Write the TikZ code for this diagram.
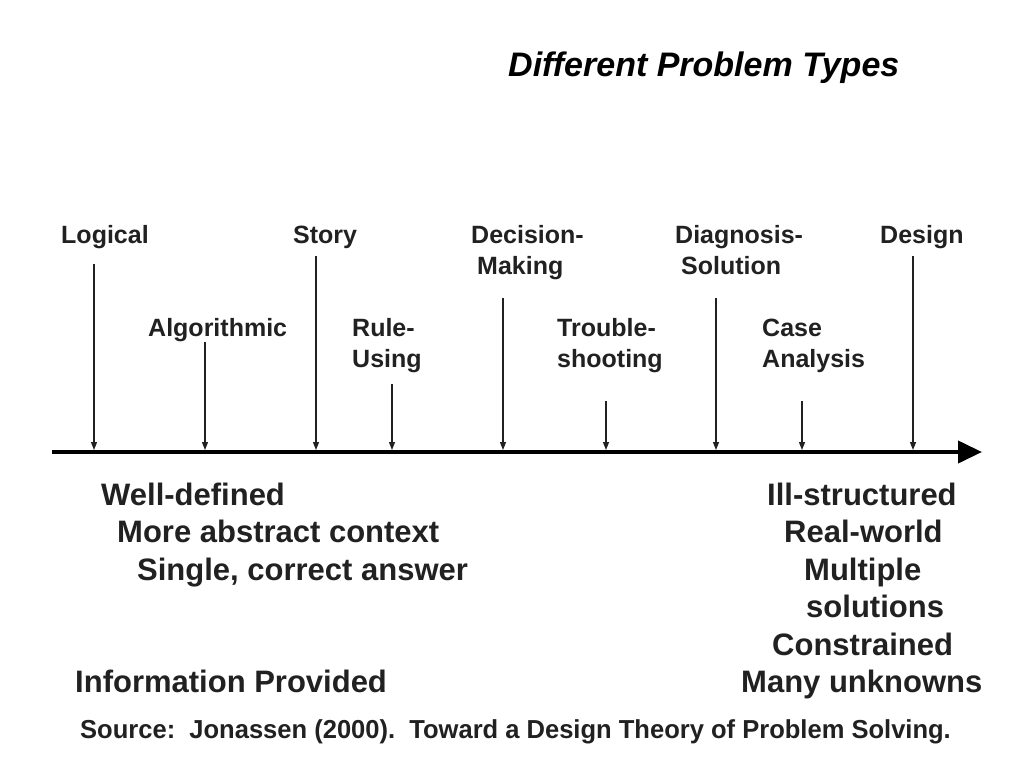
\documentclass[tikz,border=0pt]{standalone}
\usepackage{fontspec}
\setmainfont{Liberation Sans}
\usetikzlibrary{arrows.meta}
\definecolor{ink}{gray}{0.13}
\begin{document}
\begin{tikzpicture}[x=1pt,y=-1pt,
  lbl/.style={anchor=base west,inner sep=0pt,font=\fontsize{25}{31}\selectfont\bfseries,text=ink,align=left},
  big/.style={anchor=base west,inner sep=0pt,font=\fontsize{31}{37.5}\selectfont\bfseries,text=ink},
  tick/.style={line width=1.3pt,ink,-{Triangle[length=8pt,width=6pt]}},
  axis/.style={line width=4pt,black,-{Triangle[length=24pt,width=22pt]}}]
\useasboundingbox[fill=white] (0,0) rectangle (1024,768);
% title
\node[anchor=base west,inner sep=0pt,font=\fontsize{34}{40}\selectfont\bfseries\itshape,text=black] (title) at (508,77) {Different Problem Types};
% axis
\coordinate (a0) at (52,452);
\coordinate (a1) at (982,452);
\draw[axis] (a0) -- (a1);
% labels (multi-line nodes: base = last line)
\node[lbl] (logical) at (61,243) {Logical};
\node[lbl] (story) at (293,243) {Story};
\node[lbl] (decision) at (471,274) {Decision-\\\hspace{6pt}Making};
\node[lbl] (diagnosis) at (675,274) {Diagnosis-\\\hspace{6pt}Solution};
\node[lbl] (design) at (880,243) {Design};
\node[lbl] (algorithmic) at (148,336) {Algorithmic};
\node[lbl] (rule) at (352,367) {Rule-\\Using};
\node[lbl] (trouble) at (557,367) {Trouble-\\shooting};
\node[lbl] (case) at (762,367) {Case\\Analysis};
% tick arrows
\foreach \n/\x/\y in {logical/94/264, algorithmic/205/342, story/316/256, rule/392/384, decision/503/298, trouble/606/401, diagnosis/716/298, case/802/401, design/913/256}{
  \coordinate (\n-s) at (\x,\y);
  \coordinate (\n-e) at (\x,450);
  \draw[tick] (\n-s) -- (\n-e);
}
% bottom text left
\node[big] (wd) at (101,505) {Well-defined};
\node[big] (mac) at (117,542.5) {More abstract context};
\node[big] (sca) at (137,580) {Single, correct answer};
\node[big] (ip) at (75,692.5) {Information Provided};
% bottom text right
\node[big] (is) at (767,505) {Ill-structured};
\node[big] (rw) at (784,542.5) {Real-world};
\node[big] (mu) at (804,580) {Multiple};
\node[big] (so) at (806,617.5) {solutions};
\node[big] (co) at (772,655) {Constrained};
\node[big] (mk) at (741,692.5) {Many unknowns};
% source
\node[anchor=base west,inner sep=0pt,font=\fontsize{26}{30}\selectfont\bfseries,text=ink] (src) at (80,738) {\scalebox{0.982}[1]{Source:\ \ Jonassen (2000).\ \ Toward a Design Theory of Problem Solving.}};
\end{tikzpicture}
\end{document}
